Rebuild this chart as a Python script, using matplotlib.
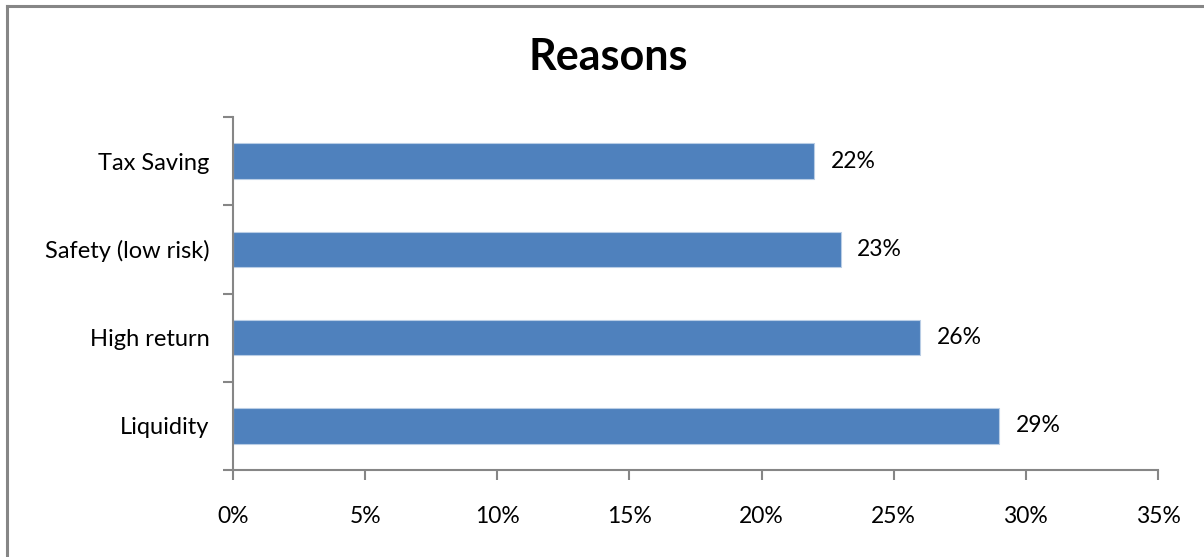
import matplotlib.pyplot as plt
from matplotlib.lines import Line2D
from matplotlib.ticker import FuncFormatter

# data
categories = ['Liquidity', 'High return', 'Safety (low risk)', 'Tax Saving']
values = [29, 26, 23, 22]
xticks = [0, 5, 10, 15, 20, 25, 30, 35]

plt.rcParams['font.family'] = ['Lato', 'DejaVu Sans']

fig = plt.figure(figsize=(12.04, 5.57), dpi=100)
W, H = 1204, 557
ax = fig.add_axes([233 / W, 1 - 470 / H, (1158 - 233) / W, (470 - 117) / H])

pos = list(range(len(categories)))
ax.barh(pos, values, height=0.4, color='#4F81BD', edgecolor='#B9CDE5', linewidth=0.8)

for p, v in zip(pos, values):
    ax.text(v + 0.62, p, '%d%%' % v, va='center', ha='left', fontsize=16.5)

ax.set_xlim(0, 35)
ax.set_ylim(-0.5, len(categories) - 0.5)
ax.set_xticks(xticks)
ax.xaxis.set_major_formatter(FuncFormatter(lambda x, p: '%d%%' % x))
ax.set_yticks([p - 0.5 for p in range(len(categories) + 1)])
ax.set_yticklabels([])
ax.set_yticks(pos, minor=True)
ax.set_yticklabels(categories, minor=True)
ax.tick_params(axis='y', which='minor', length=0, pad=17, labelsize=17)
ax.tick_params(axis='y', which='major', length=7, direction='out', color='#868686', width=1.5)
ax.tick_params(axis='x', length=7, direction='out', color='#868686', width=1.5, labelsize=16.5, pad=19)

for s in ['top', 'right']:
    ax.spines[s].set_visible(False)
for s in ['left', 'bottom']:
    ax.spines[s].set_color('#868686')
    ax.spines[s].set_linewidth(1.5)

fig.text((527 + 690) / 2 / W, 1 - 57 / H, 'Reasons', ha='center', va='center',
         fontsize=31, fontweight='bold')

# chart area border
fig.add_artist(Line2D([6.5 / W, 6.5 / W], [0, 1 - 5.5 / H], color='#868686', lw=2.2))
fig.add_artist(Line2D([6.5 / W, 1], [1 - 5.5 / H, 1 - 5.5 / H], color='#868686', lw=2.2))

fig.savefig('out.png', dpi=100)
